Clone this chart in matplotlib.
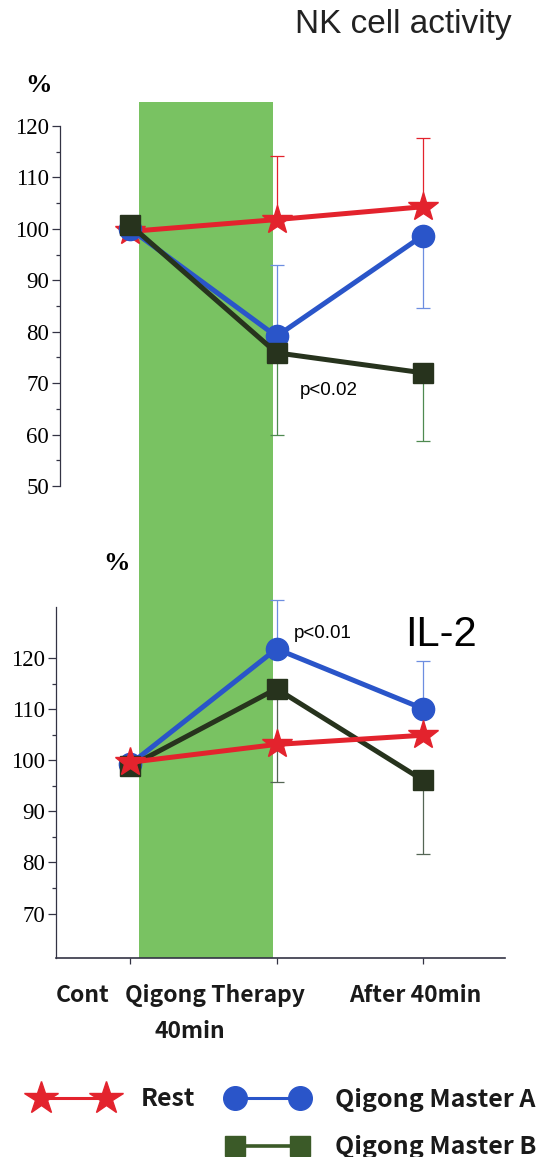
import numpy as np
import matplotlib
matplotlib.use('Agg')
import matplotlib.pyplot as plt
from matplotlib.lines import Line2D

# time points: control, directly after 40 min qigong, 40 min later
x_pos = [0, 1, 2]
x_labels = ['Cont', 'Qigong Therapy', 'After 40min']

# NK cell activity (% of control)
nk_rest = [99.5, 101.8, 104.3]
nk_master_a = [100.0, 79.1, 98.7]
nk_master_b = [100.8, 75.9, 72.0]
# error bar ends as drawn (None = side not shown)
nk_rest_hi = [None, 114.2, 117.6]
nk_rest_lo = [None, None, None]
nk_a_hi = [None, 93.0, None]
nk_a_lo = [None, None, 84.7]
nk_b_hi = [None, None, None]
nk_b_lo = [None, 60.0, 58.8]

# IL-2 (% of control)
il2_rest = [99.6, 103.1, 104.9]
il2_master_a = [99.2, 121.8, 110.1]
il2_master_b = [98.8, 114.0, 96.1]
il2_rest_hi = [None, None, None]
il2_rest_lo = [None, None, None]
il2_a_hi = [None, 131.4, 119.5]
il2_a_lo = [None, None, None]
il2_b_hi = [None, None, None]
il2_b_lo = [None, 95.8, 81.6]

RED = '#e3232d'
BLUE = '#2a55c9'
DKGREEN = '#27331d'
BAND = '#79c262'

W, H = 550, 1157
fig = plt.figure(figsize=(W / 100, H / 100), dpi=100)
fig.patch.set_facecolor('white')

def frac(left, top, right, bottom):
    return [left / W, 1 - bottom / H, (right - left) / W, (bottom - top) / H]

# x scale: data -> pixels  px = 130 + 146.5 * x
def xlim_for(left_px, right_px):
    return ((left_px - 130) / 146.5, (right_px - 130) / 146.5)

serif = 'Liberation Serif'
bold_sans = ['Noto Sans CJK JP', 'DejaVu Sans']

# qigong session shading across both panels
ax_bg = fig.add_axes(frac(56, 102, 505, 958))
ax_bg.set_xlim(*xlim_for(56, 505))
ax_bg.axvspan(0.06, 0.976, color=BAND, lw=0)
ax_bg.axis('off')

ax_top = fig.add_axes(frac(60, 126, 505, 486))
ax_bot = fig.add_axes(frac(56, 607, 505, 958))


def draw_series(ax, y, hi, lo, color, ecolor, marker, ms, z):
    for xi, yi, h, l in zip(x_pos, y, hi, lo):
        if h is None and l is None:
            continue
        up = 0 if h is None else h - yi
        dn = 0 if l is None else yi - l
        ax.errorbar([xi], [yi], yerr=[[dn], [up]], fmt='none', ecolor=ecolor,
                    elinewidth=0.9, capsize=5, capthick=0.9, zorder=z - 1,
                    clip_on=False)
    ax.plot(x_pos, y, color=color, lw=3.6, marker=marker, ms=ms, mec=color,
            mfc=color, zorder=z, clip_on=False)


for ax in (ax_top, ax_bot):
    ax.patch.set_alpha(0)
    for s in ('top', 'right'):
        ax.spines[s].set_visible(False)
    ax.spines['left'].set_linewidth(0.9)
    ax.spines['left'].set_color('#333344')
    ax.tick_params(axis='y', which='major', length=6, width=0.9, color='#333344', pad=2)
    ax.tick_params(axis='y', which='minor', length=3, width=0.9, color='#333344')

# --- NK cell activity
ax_top.set_xlim(*xlim_for(60, 505))
ax_top.set_ylim(50, 120)
ax_top.spines['bottom'].set_visible(False)
ax_top.set_xticks([])
ax_top.set_yticks(np.arange(50, 121, 10))
ax_top.set_yticks(np.arange(55, 120, 10), minor=True)
ax_top.set_yticklabels([str(v) for v in range(50, 121, 10)], fontfamily=serif, fontsize=16.5)
draw_series(ax_top, nk_rest, nk_rest_hi, nk_rest_lo, RED, RED, '*', 22, 4)
draw_series(ax_top, nk_master_a, nk_a_hi, nk_a_lo, BLUE, '#6d8ee0', 'o', 16, 5)
draw_series(ax_top, nk_master_b, nk_b_hi, nk_b_lo, DKGREEN, '#4f8a50', 's', 14, 6)
ax_top.text(1.16, 68.5, 'p<0.02', fontsize=13.5, fontfamily='Liberation Sans', va='center')

# --- IL-2
ax_bot.set_xlim(*xlim_for(56, 505))
ax_bot.set_ylim(61.3, 130)
ax_bot.spines['left'].set_bounds(61.3, 130)
ax_bot.spines['bottom'].set_linewidth(1.2)
ax_bot.spines['bottom'].set_color('#333344')
ax_bot.set_yticks(np.arange(70, 121, 10))
ax_bot.set_yticks(np.arange(75, 120, 10), minor=True)
ax_bot.set_yticklabels([str(v) for v in range(70, 121, 10)], fontfamily=serif, fontsize=16.5)
ax_bot.set_xticks(x_pos)
ax_bot.set_xticklabels([])
ax_bot.tick_params(axis='x', length=4, width=0.9, color='#333344')
draw_series(ax_bot, il2_master_a, il2_a_hi, il2_a_lo, BLUE, '#6d8ee0', 'o', 16, 4)
draw_series(ax_bot, il2_master_b, il2_b_hi, il2_b_lo, DKGREEN, '#556655', 's', 14, 5)
draw_series(ax_bot, il2_rest, il2_rest_hi, il2_rest_lo, RED, RED, '*', 22, 6)
ax_bot.text(1.12, 124.8, 'p<0.01', fontsize=13.5, fontfamily='Liberation Sans', va='center')
ax_bot.text(1.88, 124.5, 'IL-2', fontsize=30, fontfamily='Liberation Sans', va='center')

# x labels under the lower panel
xt = ax_bot.get_xaxis_transform()
lab_kw = dict(fontfamily=bold_sans, fontweight='bold', fontsize=16.5, va='baseline',
              ha='center', color='#1a1a1a')
ax_bot.text(-0.32, -0.125, x_labels[0], transform=xt, **lab_kw)
ax_bot.text(0.58, -0.125, x_labels[1], transform=xt, **lab_kw)
ax_bot.text(0.41, -0.228, '40min', transform=xt, **lab_kw)
ax_bot.text(1.95, -0.125, x_labels[2], transform=xt, **lab_kw)

# titles and units
fig.text(295 / W, 1 - 33 / H, 'NK cell activity', fontsize=24, fontfamily='Liberation Sans',
         va='baseline', color='#222222')
fig.text(38 / W, 1 - 85 / H, '%', fontsize=19, fontfamily=serif, fontweight='bold',
         ha='center', va='center')
fig.text(117 / W, 1 - 563 / H, '%', fontsize=19, fontfamily=serif, fontweight='bold',
         ha='center', va='center')

# legend
handles = [
    Line2D([], [], color=RED, lw=2.2, marker='*', ms=25),
    Line2D([], [], color='none'),
    Line2D([], [], color=BLUE, lw=2.2, marker='o', ms=17),
    Line2D([], [], color='#3b5a28', lw=2.6, marker='s', ms=15),
]
labels = ['Rest', '', 'Qigong Master A', 'Qigong Master B']
leg = fig.legend(handles, labels, ncol=2, loc='upper left',
                 bbox_to_anchor=(11 / W, 1 - 1065 / H), frameon=False,
                 numpoints=2, handlelength=3.2, handletextpad=1.1,
                 columnspacing=1.3, labelspacing=0.95,
                 prop={'family': bold_sans, 'weight': 'bold', 'size': 18})
for t in leg.get_texts():
    t.set_color('#1a1a1a')

fig.savefig('out.png', dpi=100, facecolor='white')
